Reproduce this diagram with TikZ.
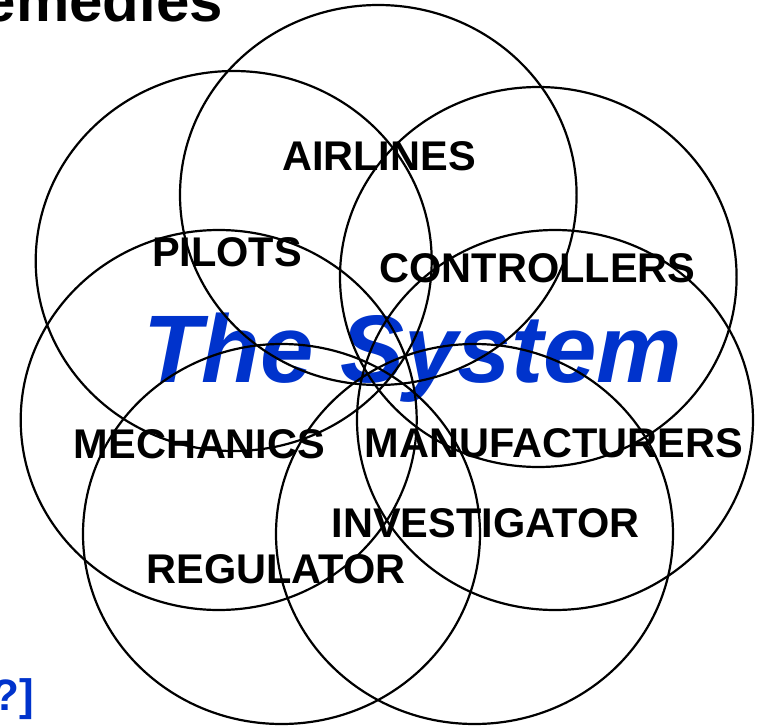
\documentclass[tikz,border=0pt]{standalone}
\usepackage{fontspec}
\setmainfont{Liberation Sans}
\definecolor{sysblue}{RGB}{0,51,204}
\tikzset{
  ring/.style={draw=black, line width=2.2pt},
  lbl/.style={inner sep=0pt, anchor=base, font=\fontsize{41.5}{45}\selectfont\bfseries},
  title/.style={inner sep=0pt, font=\fontsize{96}{100}\selectfont\bfseries\itshape, text=sysblue},
}
\begin{document}
\begin{tikzpicture}[x=1pt,y=-1pt]
\useasboundingbox (0,0) rectangle (761,726);
\clip (0,0) rectangle (761,726);
% cut-off slide texts
\node[inner sep=0pt, anchor=base east, font=\fontsize{60}{64}\selectfont\bfseries] (head) at (223,21) {Remedies};
\node[inner sep=0pt, anchor=base east, font=\fontsize{44}{48}\selectfont\bfseries, text=sysblue] (foot) at (34,710) {[?]};
% labels
\node[title, anchor=base] (sys) at (412.5,382) {The System};
\node[lbl] (airlines) at (379,170) {AIRLINES};
\node[lbl] (pilots) at (227,266) {PILOTS};
\node[lbl] (controllers) at (537.5,282) {CONTROLLERS};
\node[lbl] (mechanics) at (199.5,458) {MECHANICS};
\node[lbl] (manufacturers) at (554,457) {MANUFACTURERS};
\node[lbl] (investigator) at (485.5,537) {INVESTIGATOR};
\node[lbl] (regulator) at (276,583) {REGULATOR};
% rings
\draw[ring] (378.3,195) ellipse [x radius=198.3, y radius=190];
\draw[ring] (233.7,261) ellipse [x radius=198, y radius=190];
\draw[ring] (538.3,277) ellipse [x radius=198.3, y radius=190];
\draw[ring] (218.7,420) ellipse [x radius=198, y radius=190];
\draw[ring] (555,420) ellipse [x radius=198, y radius=190];
\draw[ring] (281.5,534) ellipse [x radius=198.5, y radius=190];
\draw[ring] (474.5,534) ellipse [x radius=198.5, y radius=190];
\end{tikzpicture}
\end{document}
